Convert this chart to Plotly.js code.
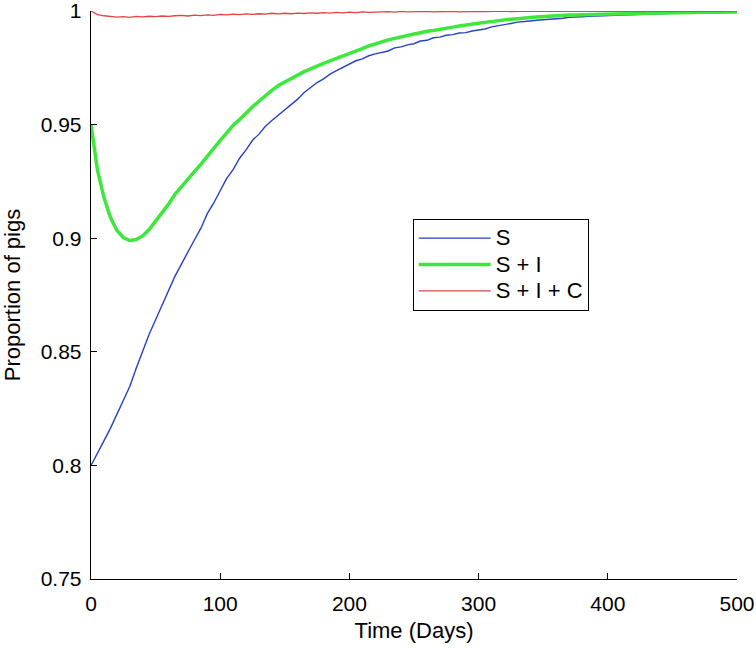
<!DOCTYPE html>
<html>
<head>
<meta charset="utf-8">
<script src="https://cdn.plot.ly/plotly-3.0.1.min.js"></script>
<style>html,body{margin:0;padding:0;background:#fff;}#chart{width:756px;height:648px;}</style>
</head>
<body>
<div id="chart"></div>
<script>
const days = [0,5,10,15,20,25,30,35,40,45,50,55,60,65,70,75,80,85,90,95,
100,105,110,115,120,125,130,135,140,145,150,155,160,165,170,175,180,185,190,195,
200,205,210,215,220,225,230,235,240,245,250,255,260,265,270,275,280,285,290,295,
300,305,310,315,320,325,330,335,340,345,350,355,360,365,370,375,380,385,390,395,
400,405,410,415,420,425,430,435,440,445,450,455,460,465,470,475,480,485,490,495,500];

const seriesNames = ["S", "S + I", "S + I + C"];

const susceptible = [0.8000,0.8052,0.8108,0.8163,0.8222,0.8281,0.8347,0.8428,0.8505,0.8577,
0.8641,0.8706,0.8772,0.8833,0.8886,0.8941,0.8992,0.9043,0.9108,0.9155,
0.9208,0.9263,0.9302,0.9352,0.9389,0.9431,0.9458,0.9493,0.9518,0.9542,
0.9565,0.9591,0.9612,0.9641,0.9662,0.9685,0.9701,0.9722,0.9738,0.9752,
0.9768,0.9781,0.9789,0.9803,0.9811,0.9819,0.9824,0.9838,0.9842,0.9851,
0.9856,0.9868,0.9871,0.9882,0.9885,0.9893,0.9896,0.9903,0.9905,0.9912,
0.9916,0.9921,0.9930,0.9934,0.9941,0.9945,0.9951,0.9952,0.9956,0.9959,
0.9961,0.9962,0.9967,0.9968,0.9972,0.9972,0.9975,0.9977,0.9978,0.9981,
0.9982,0.9983,0.9985,0.9985,0.9987,0.9987,0.9988,0.9989,0.9989,0.9990,
0.9991,0.9991,0.9992,0.9992,0.9993,0.9993,0.9994,0.9994,0.9995,0.9995,0.9995];

const suscInfected = [0.9500,0.9300,0.9180,0.9092,0.9035,0.9003,0.8990,0.8994,0.9010,0.9038,
0.9075,0.9112,0.9150,0.9193,0.9228,0.9262,0.9293,0.9325,0.9362,0.9398,
0.9431,0.9463,0.9497,0.9522,0.9551,0.9578,0.9603,0.9628,0.9651,0.9672,
0.9688,0.9704,0.9718,0.9733,0.9745,0.9759,0.9769,0.9781,0.9791,0.9803,
0.9814,0.9824,0.9834,0.9846,0.9857,0.9864,0.9873,0.9880,0.9886,0.9894,
0.9899,0.9904,0.9911,0.9914,0.9920,0.9924,0.9929,0.9934,0.9939,0.9943,
0.9946,0.9950,0.9954,0.9957,0.9960,0.9964,0.9966,0.9970,0.9971,0.9974,
0.9976,0.9978,0.9979,0.9981,0.9982,0.9982,0.9984,0.9984,0.9985,0.9986,
0.9986,0.9987,0.9987,0.9988,0.9989,0.9989,0.9990,0.9990,0.9991,0.9991,
0.9992,0.9992,0.9993,0.9993,0.9994,0.9993,0.9994,0.9995,0.9995,0.9995,0.9996];

const suscInfectedCarrier = [1.0000,0.9984,0.9979,0.9976,0.9973,0.9975,0.9972,0.9976,0.9974,0.9977,
0.9975,0.9978,0.9976,0.9979,0.9981,0.9978,0.9982,0.9980,0.9983,0.9981,
0.9985,0.9983,0.9986,0.9984,0.9987,0.9985,0.9988,0.9986,0.9990,0.9987,
0.9990,0.9988,0.9991,0.9989,0.9992,0.9990,0.9993,0.9991,0.9994,0.9992,
0.9995,0.9993,0.9996,0.9994,0.9996,0.9995,0.9997,0.9995,0.9998,0.9996,
0.9997,0.9995,0.9998,0.9996,0.9998,0.9997,0.9999,0.9996,0.9998,0.9997,
0.9999,0.9997,0.9999,0.9998,1.0000,0.9997,0.9999,0.9998,1.0000,0.9998,
0.9999,0.9997,1.0000,0.9998,0.9999,0.9998,1.0000,0.9998,0.9999,0.9998,
1.0000,0.9998,0.9999,0.9998,1.0000,0.9997,0.9999,0.9998,1.0000,0.9998,
0.9999,0.9998,1.0000,0.9998,0.9999,0.9997,1.0000,0.9998,0.9999,0.9998,1.0000];

const xTicks = [0,100,200,300,400,500];
const yTicks = [0.75,0.8,0.85,0.9,0.95,1];
const yTickLabels = ["0.75","0.8","0.85","0.9","0.95","1"];

const fam = "Liberation Sans, Arial, sans-serif";
const tickFont = {family: fam, size: 21, color: "#000"};
const titleFont = {family: fam, size: 22, color: "#000"};
const legendFont = {family: fam, size: 18, color: "#000"};
const legendLabel = s => '<span style="font-size:22px">' + s + '</span>';

const traces = [
  {x: days, y: susceptible, name: legendLabel(seriesNames[0]), mode: "lines", line: {color: "#2541c8", width: 1.4}},
  {x: days, y: suscInfected, name: legendLabel(seriesNames[1]), mode: "lines", line: {color: "#3ce83c", width: 3.5}},
  {x: days, y: suscInfectedCarrier, name: legendLabel(seriesNames[2]), mode: "lines", line: {color: "#e04444", width: 1.3}}
];

const layout = {
  width: 756, height: 648,
  margin: {l: 91, r: 19, t: 11, b: 69, pad: 0},
  paper_bgcolor: "#fff", plot_bgcolor: "#fff",
  font: tickFont,
  showlegend: true,
  legend: {
    x: 0.498, y: 0.634, xanchor: "left", yanchor: "top",
    bgcolor: "#fff", bordercolor: "#000", borderwidth: 1,
    font: legendFont, itemwidth: 72, tracegroupgap: 0
  },
  xaxis: {
    range: [0, 500], tickvals: xTicks, ticks: "inside", ticklen: 6, tickwidth: 1, tickcolor: "#000",
    showline: true, linecolor: "#000", linewidth: 1.3, mirror: false, showgrid: false, zeroline: false,
    tickfont: tickFont, ticklabelstandoff: 5, ticklabeloverflow: "allow",
    title: {text: "Time (Days)", font: titleFont, standoff: 9}
  },
  yaxis: {
    range: [0.75, 1], tickvals: yTicks, ticktext: yTickLabels, ticks: "inside", ticklen: 6, tickwidth: 1, tickcolor: "#000",
    showline: true, linecolor: "#000", linewidth: 1.3, mirror: false, showgrid: false, zeroline: false,
    tickfont: tickFont, ticklabelstandoff: 4, ticklabeloverflow: "allow",
    title: {text: "Proportion of pigs", font: titleFont, standoff: 16}
  }
};

Plotly.newPlot("chart", traces, layout, {displayModeBar: false, staticPlot: true});
</script>
</body>
</html>
